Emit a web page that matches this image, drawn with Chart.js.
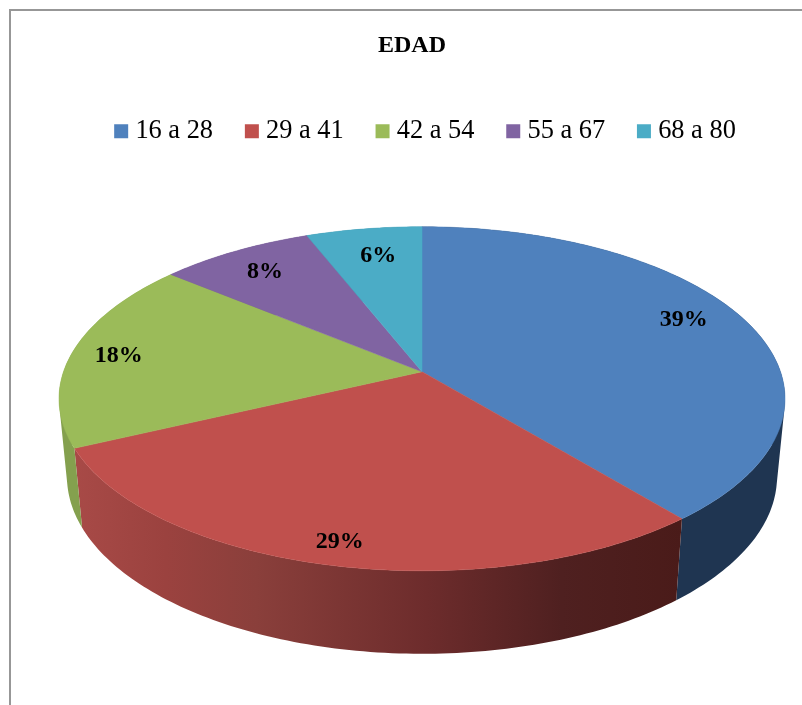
<!DOCTYPE html>
<html lang="es">
<head>
<meta charset="utf-8">
<title>EDAD</title>
<script src="https://cdn.jsdelivr.net/npm/chart.js@4"></script>
<style>
  html, body { margin: 0; background: #fff; overflow: hidden; }
  #marco { position: absolute; left: 9px; top: 9px; right: 0; bottom: 0; border-left: 2px solid #979797; border-top: 2px solid #979797; }
  #grafico { position: absolute; left: 0; top: 0; }
</style>
</head>
<body>
<div id="marco"></div>
<canvas id="grafico" width="802" height="705"></canvas>
<script>
// Datos
const rangos = ["16 a 28", "29 a 41", "42 a 54", "55 a 67", "68 a 80"];
const porcentajes = [39, 29, 18, 8, 6];
const colores = ["#4f81bd", "#c0504d", "#9bbb59", "#8064a2", "#4bacc6"];
const coloresPared = ["#1f3551", "#c0504d", "#84a04e", "#5f4a7a", "#35808f"];

// Ajuste de cada etiqueta respecto a su posicion calculada
const etiquetaDx = [3, -11, -23, -4, 4];
const etiquetaDy = [-8, 21, 1, -1, 1];

// Vista 3D de la torta (radios en px y fuerza de la perspectiva)
const radioX = 358.5;
const radioY = 167.8;
const perspectiva = 0.157;
const paredEscalaX = 0.978;
const paredEscalaY = 1.03;
const paredBajada = 77;
const radioEtiqueta = 0.8;

// Punto del disco (angulo, fraccion de radio) proyectado a la cara superior
function proyectar(arco, angulo, f) {
  const u = Math.cos(angulo) * f;
  const v = Math.sin(angulo) * f;
  const w = 1 - perspectiva * v;
  return { x: (radioX * u) / w, y: (radioY * v) / w };
}

// Todos los tramos van en un solo path, con el mismo sentido, para que no se vean costuras
function trazarPared(ctx, arco, relleno) {
  const pasos = Math.ceil(((arco.endAngle - arco.startAngle) * 180) / Math.PI);
  const arriba = [];
  const abajo = [];
  for (let i = 0; i <= pasos; i++) {
    const a = arco.startAngle + ((arco.endAngle - arco.startAngle) * i) / pasos;
    const p = proyectar(arco, a, 1);
    arriba.push({ x: arco.x + p.x, y: arco.y + p.y });
    abajo.push({ x: arco.x + p.x * paredEscalaX, y: arco.y + p.y * paredEscalaY + paredBajada });
  }
  ctx.beginPath();
  for (let i = 0; i < pasos; i++) {
    const tramo = [arriba[i], arriba[i + 1], abajo[i + 1], abajo[i]];
    let area = 0;
    tramo.forEach((p, j) => {
      const q = tramo[(j + 1) % 4];
      area += p.x * q.y - q.x * p.y;
    });
    if (area < 0) tramo.reverse();
    ctx.moveTo(tramo[0].x, tramo[0].y);
    tramo.slice(1).forEach((p) => ctx.lineTo(p.x, p.y));
    ctx.closePath();
  }
  ctx.fillStyle = relleno;
  ctx.fill();
}

function trazarCara(ctx, arco, relleno) {
  const pasos = Math.ceil(((arco.endAngle - arco.startAngle) * 180) / Math.PI);
  ctx.beginPath();
  ctx.moveTo(arco.x, arco.y);
  for (let i = 0; i <= pasos; i++) {
    const a = arco.startAngle + ((arco.endAngle - arco.startAngle) * i) / pasos;
    const p = proyectar(arco, a, 1);
    ctx.lineTo(arco.x + p.x, arco.y + p.y);
  }
  ctx.closePath();
  ctx.fillStyle = relleno;
  ctx.strokeStyle = relleno;
  ctx.lineWidth = 0.5;
  ctx.fill();
  ctx.stroke();
}

const torta3d = {
  id: "torta3d",
  afterLayout(chart) {
    // titulo y leyenda no van centrados con la torta en el original
    chart.titleBlock.left -= 10;
    chart.titleBlock.right -= 10;
    chart.legend.left += 6;
    chart.legend.right += 6;
  },
  beforeDatasetsDraw(chart) {
    const ctx = chart.ctx;
    const arcos = chart.getDatasetMeta(0).data;

    // Pared roja con degradado de izquierda a derecha
    const degradado = ctx.createLinearGradient(74, 0, 683, 0);
    degradado.addColorStop(0, "#a84a47");
    degradado.addColorStop(0.15, "#9b423f");
    degradado.addColorStop(0.3, "#8a3f3b");
    degradado.addColorStop(0.58, "#6d2c2c");
    degradado.addColorStop(0.8, "#4f2020");
    degradado.addColorStop(1, "#4a1b19");

    ctx.save();
    arcos.forEach((arco, i) => trazarPared(ctx, arco, i === 1 ? degradado : coloresPared[i]));
    arcos.forEach((arco, i) => trazarCara(ctx, arco, colores[i]));

    // Etiquetas de porcentaje
    ctx.fillStyle = "#000";
    ctx.font = "bold 24px 'Liberation Serif'";
    ctx.textAlign = "center";
    ctx.textBaseline = "middle";
    arcos.forEach((arco, i) => {
      const medio = (arco.startAngle + arco.endAngle) / 2;
      const p = proyectar(arco, medio, radioEtiqueta);
      ctx.fillText(porcentajes[i] + "%", arco.x + p.x + etiquetaDx[i], arco.y + p.y + etiquetaDy[i]);
    });
    ctx.restore();
    return false;
  },
};

new Chart(document.querySelector("#grafico"), {
  type: "pie",
  data: {
    labels: rangos,
    datasets: [{ data: porcentajes, backgroundColor: colores, borderWidth: 0 }],
  },
  options: {
    responsive: false,
    animation: false,
    layout: { padding: { left: 42, right: 0, top: 0, bottom: 116 } },
    plugins: {
      tooltip: { enabled: false },
      title: {
        display: true,
        text: "EDAD",
        color: "#000",
        font: { family: "'Liberation Serif'", size: 24, weight: "bold" },
        padding: { top: 31, bottom: 20.5 },
      },
      legend: {
        position: "top",
        labels: {
          color: "#000",
          font: { family: "'Liberation Serif'", size: 26.4 },
          usePointStyle: true,
          pointStyle: "rect",
          boxWidth: 2,
          boxHeight: 14,
          padding: 37.8,
        },
      },
    },
  },
  plugins: [torta3d],
});
</script>
</body>
</html>
